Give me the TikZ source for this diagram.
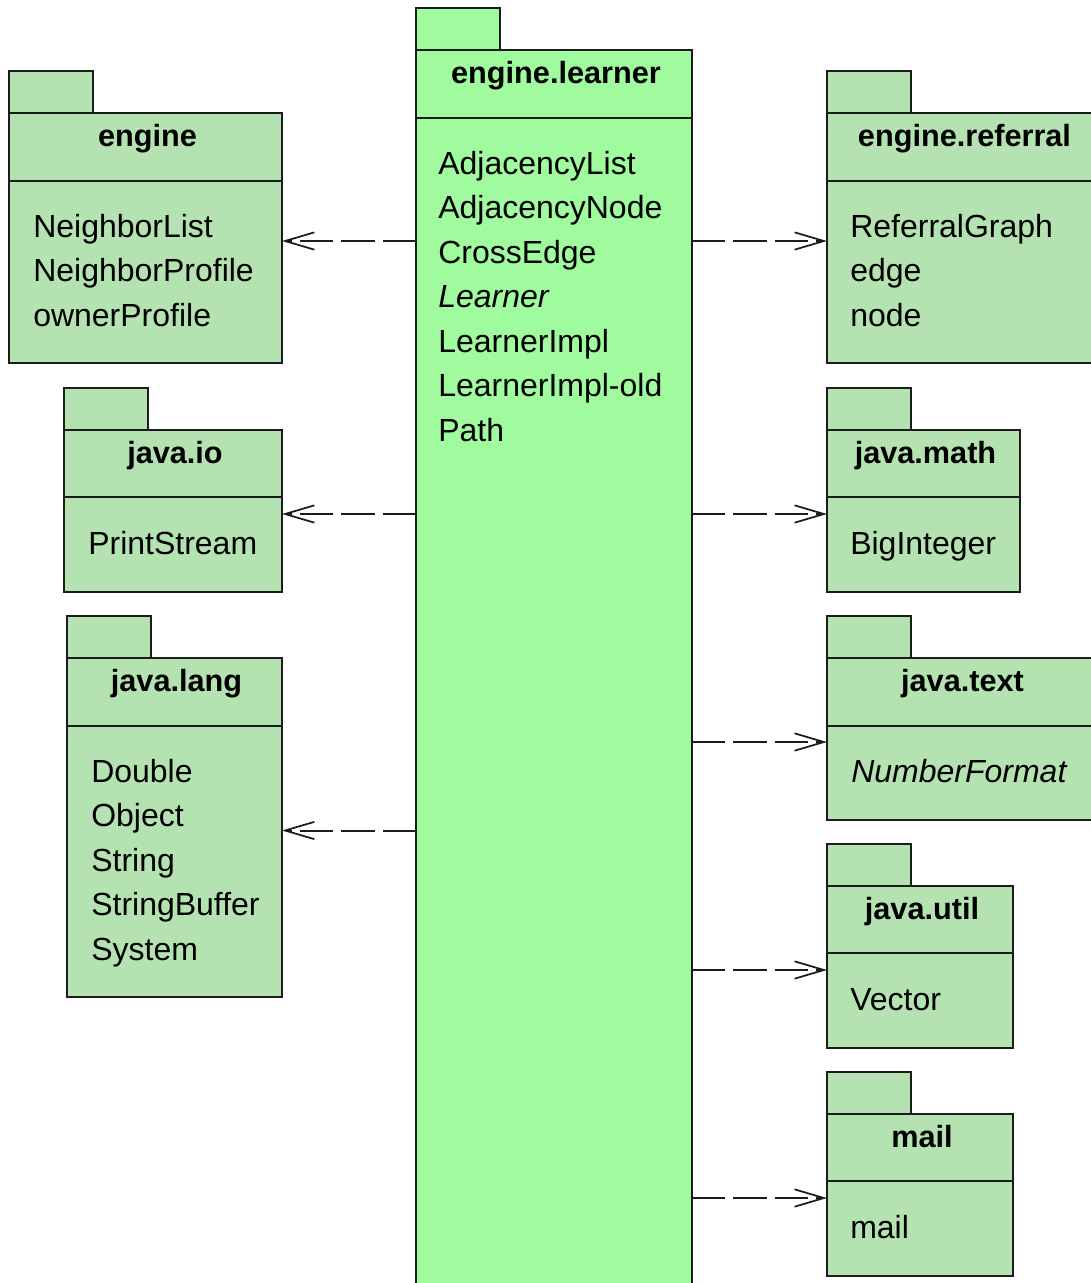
\documentclass[tikz,border=0pt]{standalone}
\usepackage{fontspec}
\setmainfont{Liberation Sans}
\usetikzlibrary{arrows.meta}

\definecolor{pkggreen}{RGB}{180,227,177}
\definecolor{maingreen}{RGB}{160,250,158}
\definecolor{edge}{RGB}{28,28,28}

\tikzset{
  frame/.style={draw=edge, line width=1.5pt},
  pkgbody/.style={rectangle, frame, inner sep=0pt, outer sep=0pt},
  pkgtitle/.style={font=\bfseries\fontsize{23}{23}\selectfont, anchor=base, inner sep=0pt},
  item/.style={font=\fontsize{24}{24}\selectfont, anchor=base west, inner sep=0pt},
  dep/.style={draw=edge, line width=1.5pt, dash pattern=on 25pt off 6pt,
    -{Straight Barb[length=22pt,width=13pt,line width=1.3pt]}},
}

% package: #1 name, #2 left, #3 body top, #4 right, #5 bottom, #6 divider, #7 fill, #8 title
\newcommand\umlpackage[8]{%
  \draw[frame, fill=#7] (#2,#3) rectangle ++(84,-42);
  \node[pkgbody, fill=#7, minimum width={(#4-#2)*0.75pt}, minimum height={(#5-#3)*0.75pt}]
    (#1) at ({(#2+#4)/2},{(#3+#5)/2}) {};
  \draw[frame] (#1.west |- 0,#6) -- (#1.east |- 0,#6);
  \node[pkgtitle] (#1-title) at ({(#2+#4)/2+2},{#3+33}) {#8};
}

\begin{document}
\begin{tikzpicture}[x=0.75pt,y=-0.75pt]
\clip (0,0) rectangle (1091,1283);
\fill[white] (0,0) rectangle (1091,1283);

% central package
\umlpackage{lrn}{416}{50}{692}{1300}{118}{maingreen}{engine.learner}
\node[item] (lrn-1) at (438,174) {AdjacencyList};
\node[item] (lrn-2) at (438,218.5) {AdjacencyNode};
\node[item] (lrn-3) at (438,263) {CrossEdge};
\node[item] (lrn-4) at (438,307.5) {\itshape Learner};
\node[item] (lrn-5) at (438,352) {LearnerImpl};
\node[item] (lrn-6) at (438,396.5) {LearnerImpl-old};
\node[item] (lrn-7) at (438,441) {Path};

% left column
\umlpackage{eng}{9}{113}{282}{363}{181}{pkggreen}{engine}
\node[item] (eng-1) at (33,237) {NeighborList};
\node[item] (eng-2) at (33,281.5) {NeighborProfile};
\node[item] (eng-3) at (33,326) {ownerProfile};

\umlpackage{jio}{64}{430}{282}{592}{497}{pkggreen}{java.io}
\node[item] (jio-1) at (88,554) {PrintStream};

\umlpackage{jlang}{67}{658}{282}{997}{726}{pkggreen}{java.lang}
\node[item] (jlang-1) at (91,782) {Double};
\node[item] (jlang-2) at (91,826.5) {Object};
\node[item] (jlang-3) at (91,871) {String};
\node[item] (jlang-4) at (91,915.5) {StringBuffer};
\node[item] (jlang-5) at (91,960) {System};

% right column
\umlpackage{ref}{827}{113}{1098}{363}{181}{pkggreen}{engine.referral}
\node[item] (ref-1) at (850,237) {ReferralGraph};
\node[item] (ref-2) at (850,281.5) {edge};
\node[item] (ref-3) at (850,326) {node};

\umlpackage{jmath}{827}{430}{1020}{592}{497}{pkggreen}{java.math}
\node[item] (jmath-1) at (850,554) {BigInteger};

\umlpackage{jtext}{827}{658}{1094}{820}{726}{pkggreen}{java.text}
\node[item] (jtext-1) at (851,782) {\itshape NumberFormat};

\umlpackage{jutil}{827}{886}{1013}{1048}{953}{pkggreen}{java.util}
\node[item] (jutil-1) at (850,1010) {Vector};

\umlpackage{mail}{827}{1114}{1013}{1276}{1181}{pkggreen}{mail}
\node[item] (mail-1) at (850,1238) {mail};

% dependencies
\foreach \p in {eng,jio,jlang}
  \draw[dep] ([yshift=-2.25pt]\p.east -| lrn.west) -- ([yshift=-2.25pt]\p.east);
\foreach \p in {ref,jmath,jtext,jutil,mail}
  \draw[dep] ([yshift=-2.25pt]\p.west -| lrn.east) -- ([yshift=-2.25pt]\p.west);
\end{tikzpicture}
\end{document}
